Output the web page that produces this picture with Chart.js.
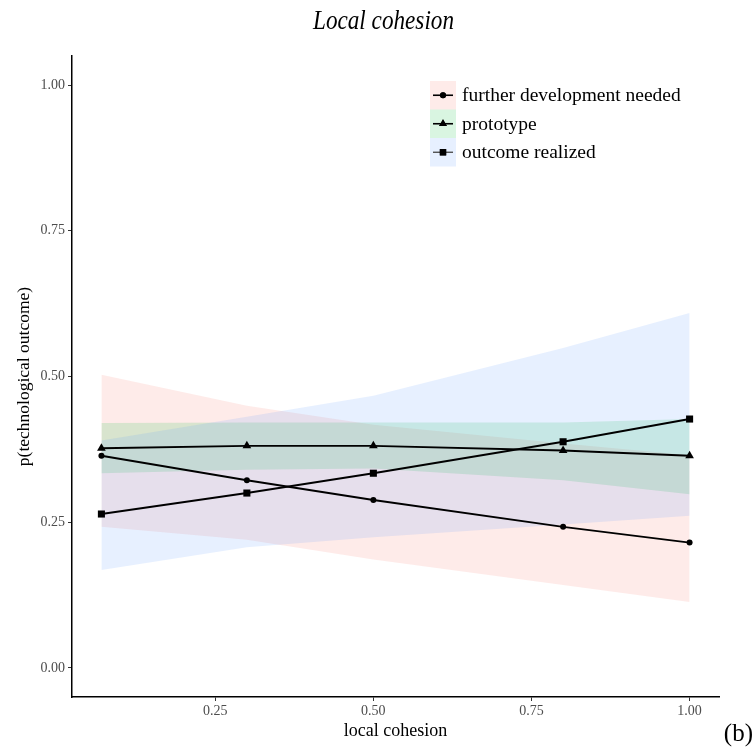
<!DOCTYPE html>
<html>
<head>
<meta charset="utf-8">
<script src="https://cdn.jsdelivr.net/npm/chart.js@4.4.1/dist/chart.umd.min.js"></script>
<style>
  html, body { margin: 0; padding: 0; background: #ffffff; }
  #wrap { width: 754px; height: 747px; position: relative; }
</style>
</head>
<body>
<div id="wrap"><canvas id="c" width="754" height="747"></canvas></div>
<script>
// ---- data ----
const xValues = [0.07, 0.3, 0.5, 0.8, 1.0];
const furtherMean  = [0.364, 0.322, 0.288, 0.242, 0.215];
const furtherUpper = [0.503, 0.450, 0.417, 0.385, 0.365];
const furtherLower = [0.242, 0.220, 0.186, 0.142, 0.113];
const protoMean  = [0.377, 0.381, 0.381, 0.373, 0.364];
const protoUpper = [0.420, 0.421, 0.421, 0.421, 0.427];
const protoLower = [0.334, 0.340, 0.342, 0.322, 0.298];
const realizedMean  = [0.264, 0.300, 0.334, 0.388, 0.427];
const realizedUpper = [0.390, 0.431, 0.467, 0.549, 0.609];
const realizedLower = [0.168, 0.207, 0.224, 0.246, 0.261];
const xTicks = [0.25, 0.5, 0.75, 1.0];
const yTicks = [0, 0.25, 0.5, 0.75, 1.0];
const seriesNames = ['further development needed', 'prototype', 'outcome realized'];
const titleText = 'Local cohesion';
const xTitle = 'local cohesion';
const yTitle = 'p(technological outcome)';
const panelTag = '(b)';

// ---- styles ----
const fillColors = ['rgba(248,118,109,0.15)', 'rgba(0,186,56,0.15)', 'rgba(97,156,255,0.15)'];
const markerStyles = ['circle', 'triangle', 'rect'];
const markerRadius = [3, 5, 5];
const SERIF = '"Liberation Serif", "Times New Roman", serif';

const pts = arr => arr.map((v, i) => ({ x: xValues[i], y: v }));

function ribbon(lower, upper, color, order) {
  return [
    { data: pts(lower), borderWidth: 0, borderColor: 'rgba(0,0,0,0)', pointRadius: 0, fill: false, order: order },
    { data: pts(upper), borderWidth: 0, borderColor: 'rgba(0,0,0,0)', pointRadius: 0, fill: '-1', backgroundColor: color, order: order }
  ];
}
function meanLine(name, vals, k) {
  return {
    label: name, data: pts(vals), borderColor: '#000', borderWidth: 1.9, fill: false, order: 0,
    pointStyle: markerStyles[k], pointRadius: markerRadius[k], pointBackgroundColor: '#000',
    pointBorderColor: '#000', pointBorderWidth: 0
  };
}

const datasets = [
  ...ribbon(furtherLower, furtherUpper, fillColors[0], 3),
  ...ribbon(protoLower, protoUpper, fillColors[1], 2),
  ...ribbon(realizedLower, realizedUpper, fillColors[2], 1),
  meanLine(seriesNames[0], furtherMean, 0),
  meanLine(seriesNames[1], protoMean, 1),
  meanLine(seriesNames[2], realizedMean, 2)
];

const decorPlugin = {
  id: 'decor',
  beforeDraw(chart) {
    const ctx = chart.ctx;
    ctx.save();
    ctx.fillStyle = '#ffffff';
    ctx.fillRect(0, 0, chart.width, chart.height);
    ctx.restore();
  },
  afterDraw(chart) {
    const ctx = chart.ctx;
    // title
    ctx.save();
    ctx.font = 'italic 27px ' + SERIF;
    ctx.fillStyle = '#000';
    ctx.textBaseline = 'alphabetic';
    ctx.textAlign = 'center';
    const w = ctx.measureText(titleText).width;
    ctx.translate(383.5, 29);
    ctx.scale(141 / w, 1);
    ctx.fillText(titleText, 0, 0);
    ctx.restore();
    // panel tag
    ctx.save();
    ctx.font = '25px ' + SERIF;
    ctx.fillStyle = '#000';
    ctx.textAlign = 'right';
    ctx.textBaseline = 'alphabetic';
    ctx.fillText(panelTag, 753, 741);
    ctx.restore();
    // legend
    const keyX = 430, keyW = 26, keyH = 28.5, keyY0 = 81;
    for (let k = 0; k < seriesNames.length; k++) {
      const y = keyY0 + k * keyH;
      const cy = y + keyH / 2;
      ctx.save();
      ctx.fillStyle = fillColors[k];
      ctx.fillRect(keyX, y, keyW, keyH);
      ctx.strokeStyle = k === 2 ? '#444' : '#000';
      ctx.lineWidth = k === 2 ? 1.3 : 1.6;
      ctx.beginPath();
      ctx.moveTo(keyX + 3, cy);
      ctx.lineTo(keyX + keyW - 3, cy);
      ctx.stroke();
      ctx.fillStyle = '#000';
      Chart.helpers.drawPoint(ctx, { pointStyle: markerStyles[k], radius: markerRadius[k] - (k === 0 ? 0 : 0.5), borderWidth: 0 }, keyX + keyW / 2, cy);
      ctx.fill();
      ctx.font = '19.5px ' + SERIF;
      ctx.textAlign = 'left';
      ctx.textBaseline = 'middle';
      ctx.fillText(seriesNames[k], 462, cy + 1);
      ctx.restore();
    }
  }
};

new Chart(document.getElementById('c'), {
  type: 'line',
  data: { datasets },
  options: {
    responsive: false,
    animation: false,
    events: [],
    layout: { padding: { top: 56, right: 35, left: 0, bottom: 0 } },
    plugins: {
      legend: { display: false },
      tooltip: { enabled: false },
      title: { display: false },
      filler: { drawTime: 'beforeDatasetsDraw', propagate: false }
    },
    elements: { line: { tension: 0 } },
    scales: {
      x: {
        type: 'linear', min: 0.0235, max: 1.0465,
        afterBuildTicks: s => { s.ticks = xTicks.map(v => ({ value: v })); },
        afterFit: s => { s.height = 50; },
        ticks: { callback: v => v.toFixed(2), font: { family: SERIF, size: 14 }, color: '#4D4D4D', padding: 2, maxRotation: 0 },
        grid: { drawOnChartArea: false, drawTicks: true, tickLength: 4, color: '#333', lineWidth: 1 },
        border: { display: true, color: '#000', width: 1.5 },
        title: { display: true, text: xTitle, font: { family: SERIF, size: 18 }, color: '#000', padding: { top: 0, bottom: 5 } }
      },
      y: {
        type: 'linear', min: -0.05, max: 1.05,
        afterBuildTicks: s => { s.ticks = yTicks.map(v => ({ value: v })); },
        afterFit: s => { s.width = 72; },
        ticks: { callback: v => v.toFixed(2), font: { family: SERIF, size: 14 }, color: '#4D4D4D', padding: 3 },
        grid: { drawOnChartArea: false, drawTicks: true, tickLength: 4, color: '#333', lineWidth: 1 },
        border: { display: true, color: '#000', width: 1.5 },
        title: { display: true, text: yTitle, font: { family: SERIF, size: 17.5 }, color: '#000', padding: { top: 14, bottom: 0 } }
      }
    }
  },
  plugins: [decorPlugin]
});
</script>
</body>
</html>
